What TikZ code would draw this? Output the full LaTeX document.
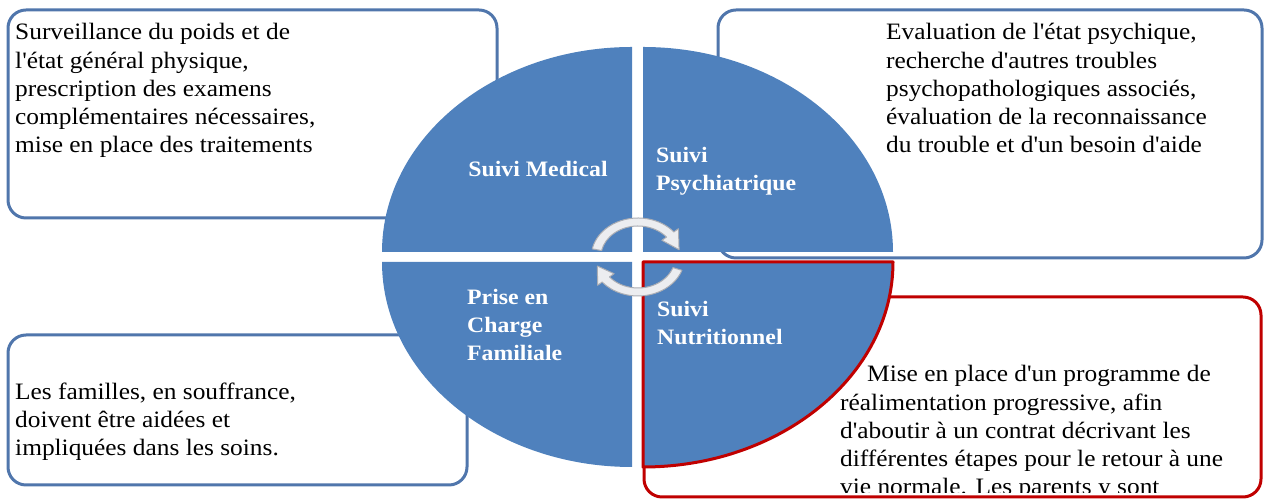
\documentclass[tikz,border=0pt]{standalone}
\usepackage{fontspec}
\setmainfont{Liberation Serif}[FakeStretch=1.08, Ligatures=TeXOff]
\definecolor{quadblue}{RGB}{79,129,189}
\definecolor{boxblue}{RGB}{80,118,172}
\definecolor{boxred}{RGB}{192,0,0}
\definecolor{arrowgray}{RGB}{170,173,180}
\definecolor{arrowfill}{RGB}{236,237,240}
\tikzset{
  txtbox/.style={draw=boxblue, line width=3bp, rounded corners=18bp, fill=white},
  quad/.style={fill=quadblue},
  bodytxt/.style={anchor=base west, align=left, inner sep=0pt, font=\fontsize{23.5bp}{28.3bp}\selectfont},
  quadtxt/.style={anchor=base west, align=left, inner sep=0pt, text=white, font=\fontsize{22bp}{28bp}\selectfont\bfseries},
  turnarrow/.style={fill=arrowfill, draw=arrowgray, line width=1bp}
}
\begin{document}
\begin{tikzpicture}[x=1bp, y=1bp, line join=round, line cap=round]
    \useasboundingbox (0,0) rectangle (1267,502);
    % text boxes
    \draw[txtbox] (8,284) rectangle (497,492);
    \draw[txtbox] (718,244) rectangle (1262,492);
    \draw[txtbox] (8,17) rectangle (467,167);
    \draw[txtbox, draw=boxred] (644,5) rectangle (1261,205);
    % quadrants
    \fill[quad] (632,250) -- ++(-250,0) arc[start angle=180, end angle=90, x radius=250, y radius=205] -- cycle;
    \fill[quad] (643,250) -- ++(0,205) arc[start angle=90, end angle=0, x radius=250, y radius=205] -- cycle;
    \fill[quad] (632,240) -- ++(0,-205) arc[start angle=270, end angle=180, x radius=250, y radius=205] -- cycle;
    \filldraw[quad, draw=boxred, line width=3bp] (643,240) -- ++(250,0) arc[start angle=0, end angle=-90, x radius=250, y radius=205] -- cycle;
    % labels (base = last line)
    \node[quadtxt, anchor=base] (medlbl) at (538,325) {Suivi Medical};
    \node[quadtxt] (psylbl) at (656,311) {Suivi\\Psychiatrique};
    \node[quadtxt] (famlbl) at (467,141) {Prise en\\Charge\\Familiale};
    \node[quadtxt] (nutlbl) at (657,157) {Suivi\\Nutritionnel};
    \node[bodytxt] (medtxt) at (15,349) {Surveillance du poids et de\\l'état général physique,\\prescription des examens\\complémentaires nécessaires,\\mise en place des traitements};
    \node[bodytxt] (psytxt) at (886,349) {Evaluation de l'état psychique,\\recherche d'autres troubles\\psychopathologiques associés,\\évaluation de la reconnaissance\\du trouble et d'un besoin d'aide};
    \node[bodytxt] (famtxt) at (15,46) {Les familles, en souffrance,\\doivent être aidées et\\impliquées dans les soins.};
    \begin{scope}
        \clip (644,9) rectangle (1258,205);
        \node[bodytxt] (nuttxt) at (840,7) {\hspace*{27bp}Mise en place d'un programme de\\réalimentation progressive, afin\\d'aboutir à un contrat décrivant les\\différentes étapes pour le retour à une\\vie normale. Les parents y sont};
    \end{scope}
    % turning arrows
    \begin{scope}[shift={(638,245)}, xscale=1.2]
        \filldraw[turnarrow] (168:39) arc[start angle=168, end angle=40, radius=39] -- (40:44) -- (12:35) -- (40:26) -- (40:31) arc[start angle=40, end angle=168, radius=31] -- cycle;
        \filldraw[turnarrow] (-20:39) arc[start angle=-20, end angle=-140, radius=39] -- (-140:44) -- (-165:35) -- (-140:26) -- (-140:31) arc[start angle=-140, end angle=-20, radius=31] -- cycle;
    \end{scope}
\end{tikzpicture}
\end{document}
